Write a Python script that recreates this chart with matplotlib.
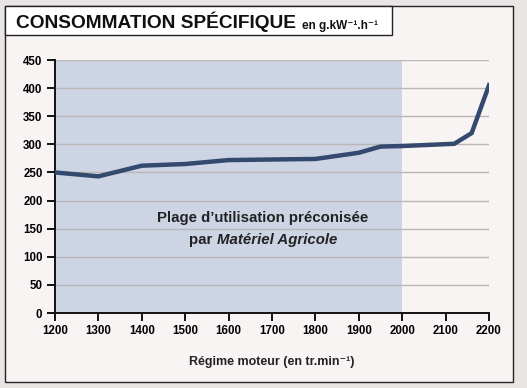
import matplotlib
matplotlib.use("Agg")
import matplotlib.pyplot as plt
from matplotlib.patches import Rectangle

regime = [1200, 1300, 1400, 1500, 1600, 1800, 1900, 1950, 2000, 2120, 2160, 2200]
conso = [250, 243, 262, 265, 272, 274, 285, 296, 297, 301, 320, 405]
x_ticks = [1200, 1300, 1400, 1500, 1600, 1700, 1800, 1900, 2000, 2100, 2200]
y_ticks = [0, 50, 100, 150, 200, 250, 300, 350, 400, 450]
plage = (1200, 2000)

fam = ['Liberation Sans', 'DejaVu Sans']
plt.rcParams['font.family'] = fam

W, H = 527, 388
fig = plt.figure(figsize=(W / 100, H / 100), dpi=100)
fig.patch.set_facecolor('#e8e5e4')

# inner panel and title box
fig.patches.append(Rectangle((5 / W, 1 - 382 / H), 508 / W, 376 / H, transform=fig.transFigure,
                             facecolor='#f7f4f3', edgecolor='#222222', lw=1.0, zorder=-5))
fig.patches.append(Rectangle((5 / W, 1 - 35 / H), 387 / W, 29 / H, transform=fig.transFigure,
                             facecolor='white', edgecolor='#222222', lw=1.0, zorder=-4))
fig.text(16 / W, 1 - 28.5 / H, 'CONSOMMATION SPÉCIFIQUE', fontsize=13.8, fontweight='bold',
         color='#111111', va='baseline', ha='left')
fig.text(302 / W, 1 - 28.5 / H, 'en g.kW⁻¹.h⁻¹', fontsize=8.5, fontweight='bold',
         color='#111111', va='baseline', ha='left')

ax = fig.add_axes([55 / W, 1 - 313 / H, 434 / W, 253 / H])
ax.set_facecolor('none')
ax.axvspan(plage[0], plage[1], ymin=0, ymax=1, color='#cdd5e5', zorder=0, lw=0)
for v in y_ticks[1:]:
    ax.axhline(v, color='#b9b6b5', lw=1.0, zorder=1)
ax.plot(regime, conso, color='#34496e', lw=3.2, solid_joinstyle='miter', zorder=3)

ax.set_xlim(1200, 2200)
ax.set_ylim(0, 450)
ax.set_xticks(x_ticks)
ax.set_yticks(y_ticks)
for s in ['top', 'right']:
    ax.spines[s].set_visible(False)
for s in ['left', 'bottom']:
    ax.spines[s].set_linewidth(1.4)
    ax.spines[s].set_color('#111111')
ax.tick_params(direction='out', length=6, width=1.4, labelsize=8.3, color='#111111', pad=3)
for lab in ax.get_xticklabels() + ax.get_yticklabels():
    lab.set_fontweight('bold')

ax.set_xlabel('Régime moteur (en tr.min⁻¹)', fontsize=9, fontweight='bold', labelpad=13,
              color='#222222')

ax.text(1678, 169, 'Plage d\u2019utilisation préconisée', fontsize=10.8, ha='center', va='center',
        fontweight='bold', color='#222222', zorder=4)
ax.text(1573, 129, 'par ', fontsize=10.8, ha='right', va='center', fontweight='bold',
        color='#222222', zorder=4)
ax.text(1573, 129, 'Matériel Agricole', fontsize=10.8, ha='left', va='center', fontweight='bold',
        style='italic', color='#222222', zorder=4)

fig.savefig('out.png', dpi=100, facecolor=fig.get_facecolor())
